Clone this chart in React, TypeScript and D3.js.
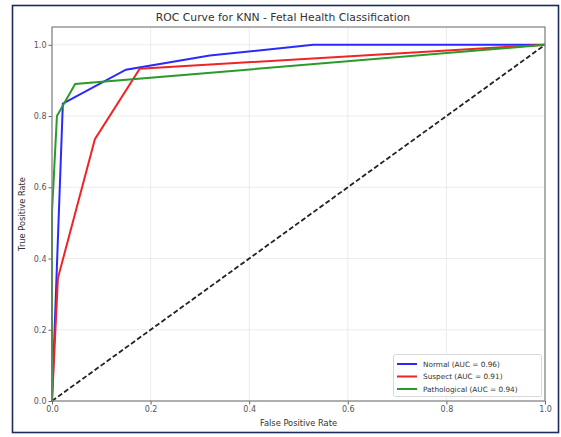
import React, { useEffect, useRef } from "react";
import * as d3 from "d3";

// ROC points
const normalFpr = [0, 0.022, 0.15, 0.32, 0.53, 1.0];
const normalTpr = [0, 0.835, 0.93, 0.97, 1.0, 1.0];
const suspectFpr = [0, 0.012, 0.087, 0.178, 1.0];
const suspectTpr = [0, 0.345, 0.735, 0.933, 1.0];
const pathoFpr = [0, 0, 0.01, 0.047, 1.0];
const pathoTpr = [0, 0.53, 0.8, 0.89, 1.0];

const seriesNames = ["Normal (AUC = 0.96)", "Suspect (AUC = 0.91)", "Pathological (AUC = 0.94)"];
const seriesColors = ["#2a2aff", "#f02424", "#2a9a2a"];
const ticks = [0, 0.2, 0.4, 0.6, 0.8, 1.0];

export default function App() {
  const svgRef = useRef(null);

  useEffect(() => {
    const width = 561;
    const height = 437;
    const svg = d3.select(svgRef.current).attr("width", width).attr("height", height);
    svg.selectAll("*").remove();

    const margin = { left: 52, top: 27, right: 16, bottom: 36 };
    const x = d3.scaleLinear().domain([0, 1]).range([margin.left, width - margin.right]);
    const y = d3.scaleLinear().domain([0, 1.05]).range([height - margin.bottom, margin.top]);

    svg.append("rect").attr("width", width).attr("height", height).attr("fill", "#fff");
    // outer frame
    svg.append("rect")
      .attr("x", 12.5).attr("y", 5.5).attr("width", 546).attr("height", 427)
      .attr("fill", "none").attr("stroke", "#1c2c5c").attr("stroke-width", 1.6);

    // grid
    const grid = svg.append("g").attr("stroke", "#e6e6e6").attr("stroke-width", 0.8);
    ticks.forEach((t) => {
      grid.append("line").attr("x1", x(t)).attr("x2", x(t)).attr("y1", y(0)).attr("y2", y(1.05));
      grid.append("line").attr("x1", x(0)).attr("x2", x(1)).attr("y1", y(t)).attr("y2", y(t));
    });

    // axes
    const xAxis = svg.append("g")
      .attr("transform", `translate(0,${y(0)})`)
      .call(d3.axisBottom(x).tickValues(ticks).tickFormat(d3.format(".1f")).tickSize(3.5).tickPadding(2));
    const yAxis = svg.append("g")
      .attr("transform", `translate(${x(0)},0)`)
      .call(d3.axisLeft(y).tickValues(ticks).tickFormat(d3.format(".1f")).tickSize(3.5).tickPadding(2));
    [xAxis, yAxis].forEach((a) => {
      a.select(".domain").remove();
      a.selectAll("line").attr("stroke", "#666");
      a.selectAll("text").attr("fill", "#555").style("font-family", "DejaVu Sans").style("font-size", "8px");
    });

    // diagonal
    svg.append("line")
      .attr("x1", x(0)).attr("y1", y(0)).attr("x2", x(1)).attr("y2", y(1))
      .attr("stroke", "#222").attr("stroke-width", 1.8).attr("stroke-dasharray", "5,2.5");

    const line = d3.line().x((d) => x(d[0])).y((d) => y(d[1]));
    const series = [
      d3.zip(normalFpr, normalTpr),
      d3.zip(suspectFpr, suspectTpr),
      d3.zip(pathoFpr, pathoTpr),
    ];
    series.forEach((pts, i) => {
      svg.append("path").datum(pts).attr("d", line)
        .attr("fill", "none").attr("stroke", seriesColors[i]).attr("stroke-width", 2);
    });

    // spines
    svg.append("rect")
      .attr("x", x(0)).attr("y", y(1.05)).attr("width", x(1) - x(0)).attr("height", y(0) - y(1.05))
      .attr("fill", "none").attr("stroke", "#808080").attr("stroke-width", 1.2);

    // legend
    const lg = svg.append("g");
    lg.append("rect")
      .attr("x", 393.5).attr("y", 354.5).attr("width", 148).attr("height", 42).attr("rx", 2)
      .attr("fill", "#fff").attr("fill-opacity", 0.85).attr("stroke", "#d8d8d8");
    seriesNames.forEach((name, i) => {
      const yy = 364 + i * 12.5;
      lg.append("line").attr("x1", 397).attr("x2", 417).attr("y1", yy).attr("y2", yy)
        .attr("stroke", seriesColors[i]).attr("stroke-width", 2);
      lg.append("text").attr("x", 423).attr("y", yy + 2.6).text(name)
        .attr("fill", "#333").style("font-family", "DejaVu Sans").style("font-size", "7.3px");
    });

    // labels
    svg.append("text").attr("x", 283).attr("y", 21).attr("text-anchor", "middle")
      .text("ROC Curve for KNN - Fetal Health Classification")
      .attr("fill", "#333").style("font-family", "DejaVu Sans").style("font-size", "10.8px");
    svg.append("text").attr("x", (x(0) + x(1)) / 2).attr("y", 426).attr("text-anchor", "middle")
      .text("False Positive Rate")
      .attr("fill", "#333").style("font-family", "DejaVu Sans").style("font-size", "8.3px");
    svg.append("text")
      .attr("transform", `translate(25,${(y(0) + y(1.05)) / 2}) rotate(-90)`)
      .attr("text-anchor", "middle")
      .text("True Positive Rate")
      .attr("fill", "#333").style("font-family", "DejaVu Sans").style("font-size", "8.3px");
  }, []);

  return (
    <svg ref={svgRef} style={{ position: "absolute", left: 0, top: 0, display: "block" }} />
  );
}
